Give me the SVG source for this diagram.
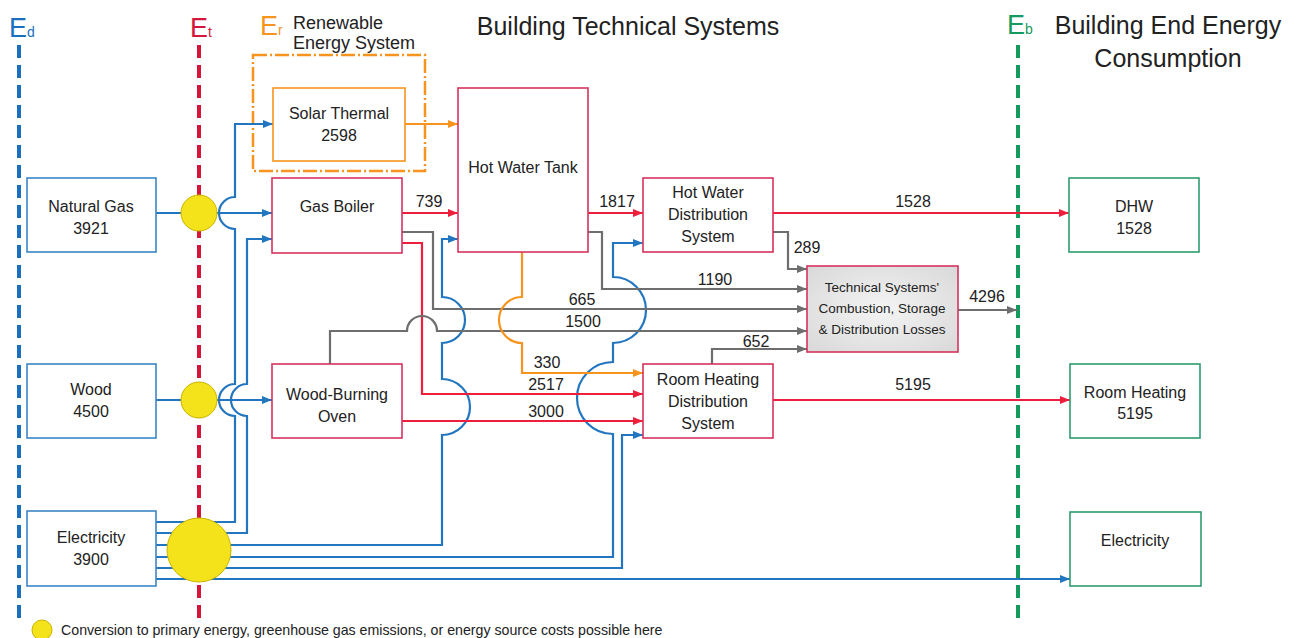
<svg xmlns="http://www.w3.org/2000/svg" width="1302" height="638" viewBox="0 0 1302 638">
<style>
text{font-family:"Liberation Sans",Arial,sans-serif;fill:#222}
.t16{font-size:16px;text-anchor:middle}
.t13{font-size:13.5px;text-anchor:middle}
.lbl{font-size:16px;text-anchor:middle}
.src{fill:#fff;stroke:#3d86c6;stroke-width:1.6}
.sys{fill:#fff;stroke:#d8325e;stroke-width:1.6}
.end{fill:#fff;stroke:#2e9c6e;stroke-width:1.6}
.c{fill:none;stroke-width:2.2}
.blue{stroke:#2276c0;marker-end:url(#ab)}
.bluen{stroke:#2276c0}
.red{stroke:#ee1f3c;marker-end:url(#ar)}
.gray{stroke:#6e6e6e;marker-end:url(#ag)}
.orange{stroke:#f7941d;marker-end:url(#ao)}
.yel{fill:#f4e31a;stroke:#c8b400;stroke-width:1}
</style>
<defs>
<marker id="ab" markerWidth="10" markerHeight="8" refX="10" refY="4" orient="auto" markerUnits="userSpaceOnUse"><path d="M0,0 L10,4 L0,8 Z" fill="#2276c0"/></marker>
<marker id="ar" markerWidth="10" markerHeight="8" refX="10" refY="4" orient="auto" markerUnits="userSpaceOnUse"><path d="M0,0 L10,4 L0,8 Z" fill="#ee1f3c"/></marker>
<marker id="ag" markerWidth="10" markerHeight="8" refX="10" refY="4" orient="auto" markerUnits="userSpaceOnUse"><path d="M0,0 L10,4 L0,8 Z" fill="#6e6e6e"/></marker>
<marker id="ao" markerWidth="10" markerHeight="8" refX="10" refY="4" orient="auto" markerUnits="userSpaceOnUse"><path d="M0,0 L10,4 L0,8 Z" fill="#f7941d"/></marker>
<radialGradient id="gg" cx="0.5" cy="0.5" r="0.7"><stop offset="0" stop-color="#f4f4f4"/><stop offset="1" stop-color="#d8d8d8"/></radialGradient>
</defs>
<rect width="1302" height="638" fill="#fff"/>

<g id="boundaries">
<line x1="19" y1="45" x2="19" y2="621" stroke="#1a6fbf" stroke-width="4" stroke-dasharray="13 7"/>
<line x1="199" y1="45" x2="199" y2="621" stroke="#d4163a" stroke-width="4" stroke-dasharray="13 7"/>
<line x1="1018" y1="45" x2="1018" y2="621" stroke="#139a5c" stroke-width="4" stroke-dasharray="13 7"/>
<text x="9" y="37" font-size="27" style="fill:#1a6fbf">E<tspan font-size="14">d</tspan></text>
<text x="190" y="37" font-size="27" style="fill:#d4163a">E<tspan font-size="14">t</tspan></text>
<text x="260" y="35" font-size="27" style="fill:#f7941d">E<tspan font-size="14">r</tspan></text>
<text x="1007" y="34" font-size="27" style="fill:#139a5c">E<tspan font-size="14">b</tspan></text>
<text x="293" y="29" font-size="18">Renewable</text>
<text x="293" y="49" font-size="18">Energy System</text>
<text x="628" y="35" font-size="25" text-anchor="middle">Building Technical Systems</text>
<text x="1168" y="34" font-size="25" text-anchor="middle">Building End Energy</text>
<text x="1168" y="67" font-size="25" text-anchor="middle">Consumption</text>
<rect x="253" y="55" width="172" height="116" fill="none" stroke="#f7941d" stroke-width="2.5" stroke-dasharray="14 3 2 3"/>
</g>

<g id="connectors">
<path class="c bluen" d="M156,213 H199"/>
<path class="c blue" d="M217,213 H272"/>
<path class="c bluen" d="M156,400 H199"/>
<path class="c blue" d="M217,400 H272"/>
<path class="c blue" d="M156,522 H235 V416 A16,16 0 0 1 235,384 V229 A16,16 0 0 1 235,197 V124 H273"/>
<path class="c blue" d="M156,533 H247 V416 A16,16 0 0 1 247,384 V239 H272"/>
<path class="c blue" d="M156,545 H442 V435 A28,28 0 0 0 442,379 V343 A23,23 0 0 0 442,297 V239 H458"/>
<path class="c blue" d="M156,557 H613 V434 A36,36 0 0 1 613,362 V343 A33,33 0 0 0 613,277 V243 H643"/>
<path class="c blue" d="M156,568 H622 V435 H643"/>
<path class="c blue" d="M156,579 H1070"/>

<path class="c red" d="M402,213 H458"/>
<path class="c red" d="M402,243 H422 V394 H643"/>
<path class="c red" d="M402,421 H643"/>
<path class="c red" d="M588,213 H643"/>
<path class="c red" d="M773,213 H1069"/>
<path class="c red" d="M773,400 H1070"/>

<path class="c gray" d="M402,232 H433 V309 H807"/>
<path class="c gray" d="M330,364 V331 H407 A15,15 0 0 1 437,331 H807"/>
<path class="c gray" d="M588,232 H602 V289 H807"/>
<path class="c gray" d="M773,232 H788 V269 H807"/>
<path class="c gray" d="M712,364 V349 H807"/>
<path class="c gray" d="M958,310 H1017"/>

<path class="c orange" d="M405,124 H458"/>
<path class="c orange" d="M522,252 V297 A23,23 0 0 0 522,343 V373 H643"/>

<text class="lbl" x="429" y="207">739</text>
<text class="lbl" x="617" y="207">1817</text>
<text class="lbl" x="913" y="207">1528</text>
<text class="lbl" x="807" y="253">289</text>
<text class="lbl" x="715" y="285">1190</text>
<text class="lbl" x="582" y="305">665</text>
<text class="lbl" x="583" y="327">1500</text>
<text class="lbl" x="756" y="347">652</text>
<text class="lbl" x="547" y="368">330</text>
<text class="lbl" x="546" y="390">2517</text>
<text class="lbl" x="546" y="417">3000</text>
<text class="lbl" x="913" y="390">5195</text>
<text class="lbl" x="987" y="302">4296</text>
</g>

<g id="conv-gas"><circle class="yel" cx="199" cy="213" r="18"/></g>
<g id="conv-wood"><circle class="yel" cx="199" cy="400" r="18"/></g>
<g id="conv-elec"><circle class="yel" cx="199" cy="550" r="32"/></g>

<g id="natural-gas"><rect class="src" x="27" y="178" width="129" height="74"/><text class="t16" x="91" y="212">Natural Gas</text><text class="t16" x="91" y="234">3921</text></g>
<g id="wood"><rect class="src" x="27" y="364" width="129" height="74"/><text class="t16" x="91" y="395">Wood</text><text class="t16" x="91" y="417">4500</text></g>
<g id="electricity"><rect class="src" x="27" y="511" width="129" height="75"/><text class="t16" x="91" y="543">Electricity</text><text class="t16" x="91" y="565">3900</text></g>

<g id="solar-thermal"><rect x="273" y="88" width="132" height="73" fill="#fff" stroke="#f7941d" stroke-width="1.6"/><text class="t16" x="339" y="119">Solar Thermal</text><text class="t16" x="339" y="141">2598</text></g>
<g id="gas-boiler"><rect class="sys" x="272" y="178" width="130" height="75"/><text class="t16" x="337" y="212">Gas Boiler</text></g>
<g id="wood-oven"><rect class="sys" x="272" y="364" width="130" height="74"/><text class="t16" x="337" y="400">Wood-Burning</text><text class="t16" x="337" y="422">Oven</text></g>
<g id="hot-water-tank"><rect class="sys" x="458" y="88" width="130" height="164"/><text class="t16" x="523" y="173">Hot Water Tank</text></g>
<g id="hw-distribution"><rect class="sys" x="643" y="178" width="130" height="74"/><text class="t16" x="708" y="198">Hot Water</text><text class="t16" x="708" y="220">Distribution</text><text class="t16" x="708" y="242">System</text></g>
<g id="rh-distribution"><rect class="sys" x="643" y="364" width="130" height="74"/><text class="t16" x="708" y="385">Room Heating</text><text class="t16" x="708" y="407">Distribution</text><text class="t16" x="708" y="429">System</text></g>
<g id="losses"><rect x="807" y="266" width="151" height="86" fill="url(#gg)" stroke="#d8325e" stroke-width="1.6"/><text class="t13" x="882" y="292">Technical Systems'</text><text class="t13" x="882" y="313">Combustion, Storage</text><text class="t13" x="882" y="334">&amp; Distribution  Losses</text></g>

<g id="dhw"><rect class="end" x="1069" y="178" width="130" height="74"/><text class="t16" x="1134" y="212">DHW</text><text class="t16" x="1134" y="234">1528</text></g>
<g id="room-heating"><rect class="end" x="1070" y="364" width="130" height="74"/><text class="t16" x="1135" y="398">Room Heating</text><text class="t16" x="1135" y="419">5195</text></g>
<g id="electricity-end"><rect class="end" x="1070" y="512" width="131" height="74"/><text class="t16" x="1135" y="546">Electricity</text></g>

<g id="legend"><circle class="yel" cx="42" cy="630" r="10"/><text x="61" y="635" font-size="14.2">Conversion to primary energy, greenhouse gas emissions, or energy source costs possible here</text></g>
</svg>
